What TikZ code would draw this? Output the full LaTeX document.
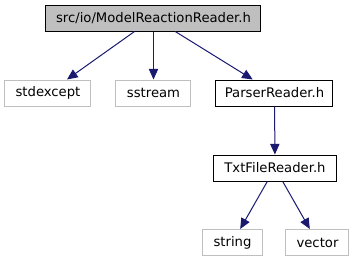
\documentclass[tikz,border=0pt]{standalone}
\usepackage{fontspec}
\setmainfont{DejaVu Sans}
\usetikzlibrary{arrows.meta}
\definecolor{edgeblue}{HTML}{191970}
\definecolor{sysgray}{HTML}{BFBFBF}

\tikzset{
  file/.style={draw=black,line width=0.75pt,fill=white,minimum height=19.5pt,inner sep=0pt,font=\fontsize{9.9}{11}\selectfont},
  sysfile/.style={file,draw=sysgray},
  dep/.style={edgeblue,line width=0.75pt,-{Triangle[length=8pt,width=7pt]}}
}

\begin{document}
\begin{tikzpicture}[x=0.75pt,y=-0.75pt]
    \useasboundingbox (0,0) rectangle (355,261);
    % the header itself
    \node[file,fill=sysgray,minimum width=161.25pt] (main) at (153.5,18) {src/io/ModelReactionReader.h};
    % first level of includes
    \node[sysfile,minimum width=64.5pt] (stdexcept) at (48,93) {stdexcept};
    \node[sysfile,minimum width=56.25pt] (sstream) at (153.5,93) {sstream};
    \node[file,minimum width=87.75pt] (parser) at (274.5,93) {ParserReader.h};
    \node[file,minimum width=92.25pt] (txt) at (275,168) {TxtFileReader.h};
    % std headers pulled in by TxtFileReader.h
    \node[sysfile,minimum width=45pt] (string) at (232.5,242.5) {string};
    \node[sysfile,minimum width=47.25pt] (vector) at (317.5,242.5) {vector};
    \draw[dep] (main) -- (stdexcept);
    \draw[dep] (main) -- (sstream);
    \draw[dep] (main) -- (parser);
    \draw[dep] (parser) -- (txt);
    \draw[dep] (txt) -- (string);
    \draw[dep] (txt) -- (vector);
  \end{tikzpicture}
\end{document}
